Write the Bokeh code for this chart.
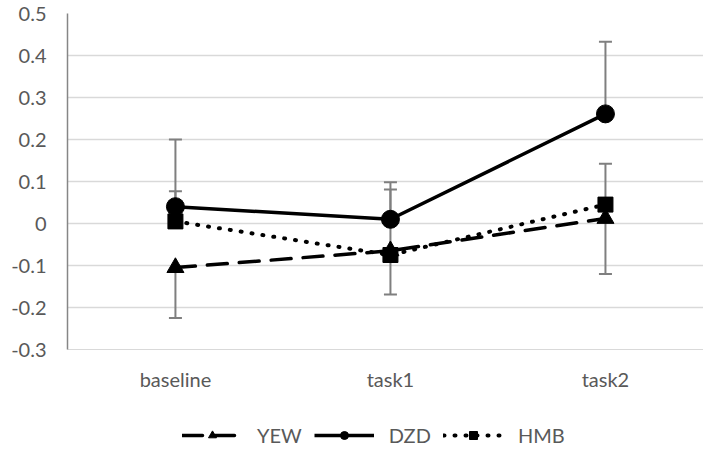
from bokeh.plotting import figure
from bokeh.layouts import column
from bokeh.models import Range1d, FixedTicker, Legend, LegendItem, CustomJSTickFormatter
from bokeh.embed import file_html
from bokeh.resources import INLINE

categories = ["baseline", "task1", "task2"]
yew = [-0.105, -0.065, 0.012]
dzd = [0.040, 0.010, 0.261]
hmb = [0.005, -0.075, 0.045]
yew_err_lo = [-0.225, -0.169, -0.120]
dzd_err_hi = [0.200, 0.098, 0.433]
hmb_err_hi = [0.077, 0.081, 0.142]
y_ticks = [-0.3, -0.2, -0.1, 0.0, 0.1, 0.2, 0.3, 0.4, 0.5]
series_names = ["YEW", "DZD", "HMB"]

xs = list(range(len(categories)))
FONT = "Lato"
TXT = "#595959"
FS = "20px"

p = figure(width=703, height=395, output_backend="svg", toolbar_location=None,
           x_range=Range1d(-0.502, 2.456), y_range=Range1d(-0.3, 0.5),
           min_border_left=67, min_border_top=13, min_border_right=0, min_border_bottom=46)
p.outline_line_color = None
p.xgrid.grid_line_color = None
p.ygrid.grid_line_color = "#d9d9d9"
p.ygrid.grid_line_width = 1.3

p.yaxis.ticker = FixedTicker(ticks=y_ticks)
p.yaxis.formatter = CustomJSTickFormatter(code="return (Math.round(tick*10)/10).toString();")
p.yaxis.axis_line_color = "#868686"
p.yaxis.axis_line_width = 1.5
p.yaxis.major_tick_line_color = None
p.yaxis.minor_tick_line_color = None
p.yaxis.major_label_standoff = 15
p.yaxis.major_label_text_font = FONT
p.yaxis.major_label_text_font_size = FS
p.yaxis.major_label_text_color = TXT

p.xaxis.ticker = FixedTicker(ticks=xs)
p.xaxis.major_label_overrides = {i: c for i, c in enumerate(categories)}
p.xaxis.axis_line_color = "#d9d9d9"
p.xaxis.major_tick_line_color = None
p.xaxis.minor_tick_line_color = None
p.xaxis.major_label_standoff = 11
p.xaxis.major_label_text_font = FONT
p.xaxis.major_label_text_font_size = FS
p.xaxis.major_label_text_color = TXT

EB = "#7f7f7f"
for vals, bounds in [(yew, yew_err_lo), (dzd, dzd_err_hi), (hmb, hmb_err_hi)]:
    p.segment(x0=xs, y0=vals, x1=xs, y1=bounds, line_color=EB, line_width=2)
    p.scatter(x=xs, y=bounds, marker="dash", size=13, line_color=EB, line_width=2)

styles = [
    dict(line=dict(line_color="black", line_width=3.5, line_dash="20 12", line_cap="round"),
         marker=dict(marker="triangle", size=17, color="black")),
    dict(line=dict(line_color="black", line_width=3.5),
         marker=dict(marker="circle", size=18, color="black")),
    dict(line=dict(line_color="black", line_width=4, line_dash="1 10", line_cap="round"),
         marker=dict(marker="square", size=15, color="black")),
]
data = [yew, dzd, hmb]

for vals, st in zip(data, styles):
    p.line(xs, vals, **st["line"])
for vals, st in zip(data, styles):
    p.scatter(xs, vals, **st["marker"])

# legend strip (its own renderers sit outside its visible range)
lf = figure(width=703, height=54, output_backend="svg", toolbar_location=None,
            x_range=Range1d(100, 101), y_range=Range1d(0, 1),
            min_border=0)
lf.axis.visible = False
lf.grid.visible = False
lf.outline_line_color = None
items = []
for name, vals, st in zip(series_names, data, styles):
    lr = lf.line(xs, vals, **st["line"])
    mr = lf.scatter(xs, vals, **st["marker"])
    items.append(LegendItem(label=name, renderers=[lr, mr]))

legend = Legend(items=items, orientation="horizontal", location=(115, 2),
                glyph_width=60, glyph_height=20, spacing=12, label_standoff=15,
                label_text_font=FONT, label_text_font_size=FS, label_text_color=TXT,
                border_line_alpha=0, background_fill_alpha=0, padding=0, margin=0)
lf.add_layout(legend, "center")

layout = column(p, lf, spacing=0)
open("out.html", "w").write(file_html(layout, INLINE))
